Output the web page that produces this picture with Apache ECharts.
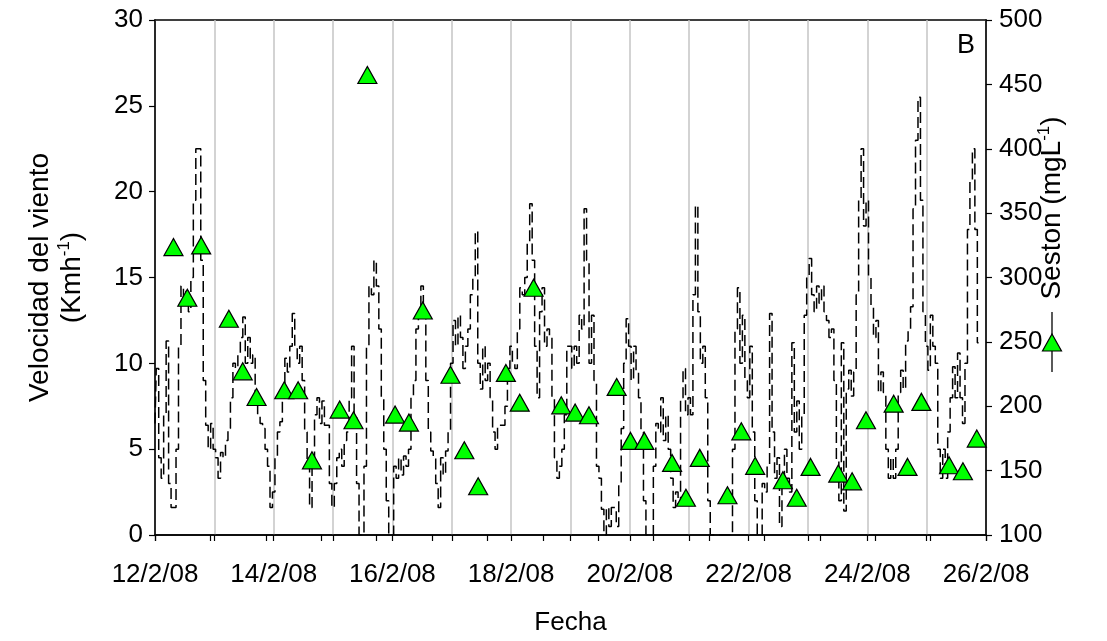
<!DOCTYPE html>
<html>
<head>
<meta charset="utf-8">
<script src="https://cdn.jsdelivr.net/npm/echarts@6/dist/echarts.min.js"></script>
<style>
  html, body { margin: 0; padding: 0; background: #ffffff; }
  #chart { width: 1107px; height: 641px; }
</style>
</head>
<body>
<div id="chart"></div>
<script>
// ---- Data ----
// X axis: days from 12/2/08 00:00
const dateLabels = ['12/2/08', '13/2/08', '14/2/08', '15/2/08', '16/2/08', '17/2/08', '18/2/08', '19/2/08',
                    '20/2/08', '21/2/08', '22/2/08', '23/2/08', '24/2/08', '25/2/08', '26/2/08'];
const windTicksLeft = [0, 5, 10, 15, 20, 25, 30];
const sestonTicksRight = [100, 150, 200, 250, 300, 350, 400, 450, 500];

// Wind speed (Km/h), hourly readings, one row per day starting 12/2/08 00:00
const windDay0  = [6.5, 9.7, 4.5, 3.3, 7, 11.3, 3, 1.6, 1.6, 5, 11, 14.5, 13.8, 14.2, 13, 15, 19.5, 22.5, 22.5, 16, 9, 6.4, 5, 6.5];
const windDay1  = [5, 4.5, 3.3, 4.8, 4.5, 5.5, 6.2, 8, 10, 9.7, 10.5, 11.5, 12.7, 10, 11.5, 10, 10.5, 8, 7, 6.5, 6.2, 5, 4, 1.6];
const windDay2  = [2.5, 4.5, 6, 6.6, 8, 10.3, 9.5, 11, 12.9, 11, 10, 11, 9, 6, 4, 1.6, 4.5, 7, 8, 6.5, 7.8, 6.4, 6.4, 3];
const windDay3  = [1.6, 3, 4.5, 5, 4, 5.5, 6, 8, 11, 7, 3, 0, 0, 4, 11, 14.5, 14, 16, 14.5, 12, 8, 5, 2, 0];
const windDay4  = [0, 4, 3.3, 4.5, 3.5, 4.6, 4, 5, 8, 9, 12, 12.8, 14.5, 13, 9, 6, 4.9, 4.5, 3, 1.6, 4.5, 3.5, 4.9, 6];
const windDay5  = [10, 12.5, 11, 12.8, 11.5, 9.7, 11, 12, 14, 15, 17.7, 10, 8.5, 11, 9, 10, 8, 6, 5, 6.4, 6.4, 6.4, 7.5, 9.7];
const windDay6  = [11, 10, 9.7, 12, 14.4, 14, 15, 17, 19.3, 16, 11, 8, 13, 14.4, 11, 12, 11.5, 8, 4.5, 3.3, 4, 5, 7, 11];
const windDay7  = [11, 9.7, 11, 10, 12.8, 12, 19, 16, 10, 12.8, 9, 4, 3.3, 1.5, 0, 1.6, 0.5, 1.6, 1.6, 0.5, 3, 6.2, 10, 12.6];
const windDay8  = [11, 9, 11, 9.5, 8, 6, 2, 0, 0, 0, 4, 6.5, 6, 8, 5.5, 7, 5, 3.3, 1.6, 2.5, 1.8, 8, 9.7, 7];
const windDay9  = [8, 7, 14, 19.2, 13, 10, 11, 8, 2, 0, 0, 0, 0, 0, 0, 0, 0, 0, 5, 12, 14.4, 10, 12.8, 9];
const windDay10 = [8, 11, 6, 2, 0, 0, 3, 2.5, 4, 12.9, 6, 3.3, 4.5, 0.5, 3, 5, 3.3, 2.5, 11.2, 6, 7.8, 5, 7, 12.8];
const windDay11 = [15, 16.1, 14, 13, 14.5, 13.5, 14.5, 13, 12.5, 11.5, 12, 9, 4.3, 2, 11.2, 1.4, 8.5, 9.6, 8.1, 9.5, 14, 19.5, 22.5, 18];
const windDay12 = [19.5, 15, 13.3, 11.5, 12.5, 8.3, 9.5, 8.3, 5, 3.3, 4.5, 3.3, 5, 8.3, 9.6, 8.5, 11.3, 12, 13.3, 19, 23, 25.5, 19.5, 13];
const windDay13 = [11, 9.6, 12.8, 11, 10, 5, 3.3, 5, 3.3, 6, 8, 9.8, 8, 10.6, 8, 6.5, 10, 17.8, 20.7, 22.5, 17.8, 11.2];
const windDays = [windDay0, windDay1, windDay2, windDay3, windDay4, windDay5, windDay6,
                  windDay7, windDay8, windDay9, windDay10, windDay11, windDay12, windDay13];

// Seston (mg/L), sampled at 8h, 14h and 20h each day, 12/2/08 .. 26/2/08
const sestonHours = [8, 14, 20];
const sestonByDay = [
  [323.6, 284.3, 324.9],
  [268.0, 227.1, 207.2],
  [212.4, 212.4, 158.0],
  [197.4, 189.1, 457.3],
  [193.5, 187.3, 274.4],
  [224.5, 165.8, 137.9],
  [225.9, 202.8, 292.0],
  [200.7, 195.1, 193.0],
  [215.0, 173.1, 173.1],
  [156.0, 128.9, 159.9],
  [130.9, 180.5, 153.7],
  [142.5, 128.9, 152.9],
  [147.7, 141.7, 189.1],
  [202.0, 152.9, 203.4],
  [154.2, 149.5, 174.9]
];

// ---- Build series data ----
const windData = [];
windDays.forEach((row, d) => {
  row.forEach((v, h) => windData.push([d + h / 24, v]));
});
const sestonData = [];
sestonByDay.forEach((row, d) => {
  row.forEach((v, k) => sestonData.push([d + sestonHours[k] / 24, v]));
});

const FONT = 'Liberation Sans, Arial, sans-serif';
const chart = echarts.init(document.getElementById('chart'), null, { renderer: 'canvas' });

chart.setOption({
  animation: false,
  backgroundColor: '#ffffff',
  grid: { left: 155, right: 121, top: 20, bottom: 105, show: true, borderColor: '#000', borderWidth: 1.5, backgroundColor: 'transparent' },
  xAxis: [
    {
      type: 'value', min: 0, max: 14, interval: 1, position: 'bottom',
      axisLine: { show: true, onZero: false, lineStyle: { color: '#000', width: 1.5 } },
      axisTick: { show: true, length: 6, lineStyle: { color: '#000', width: 1.2 } },
      axisLabel: {
        show: true, margin: 27, color: '#000', fontFamily: FONT, fontSize: 26,
        formatter: v => (Math.round(v) % 2 === 0 ? dateLabels[Math.round(v)] : '')
      },
      splitLine: { show: true, lineStyle: { color: '#c4c4c4', width: 1.5 } },
      name: 'Fecha', nameLocation: 'middle', nameGap: 75,
      nameTextStyle: { color: '#000', fontFamily: FONT, fontSize: 26 }
    },
    {
      type: 'value', min: 0, max: 15, interval: 1, position: 'bottom',
      axisLine: { show: false, onZero: false },
      axisTick: { show: true, length: 6, lineStyle: { color: '#000', width: 1.2 } },
      axisLabel: { show: false },
      splitLine: { show: false }
    }
  ],
  yAxis: [
    {
      type: 'value', min: 0, max: 30, interval: 5, position: 'left',
      axisLine: { show: true, onZero: false, lineStyle: { color: '#000', width: 1.5 } },
      axisTick: { show: true, length: 6, lineStyle: { color: '#000', width: 1.2 } },
      axisLabel: { color: '#000', fontFamily: FONT, fontSize: 26, margin: 12 },
      splitLine: { show: false },
      name: 'Velocidad del viento\n(Kmh{sup|-1})', nameLocation: 'middle', nameGap: 67,
      nameTextStyle: {
        color: '#000', fontFamily: FONT, fontSize: 28, lineHeight: 32,
        rich: { sup: { fontSize: 17, lineHeight: 22, verticalAlign: 'top', color: '#000', fontFamily: FONT } }
      }
    },
    {
      type: 'value', min: 100, max: 500, interval: 50, position: 'right',
      axisLine: { show: true, onZero: false, lineStyle: { color: '#000', width: 1.5 } },
      axisTick: { show: true, length: 6, lineStyle: { color: '#000', width: 1.2 } },
      axisLabel: { color: '#000', fontFamily: FONT, fontSize: 26, margin: 13 },
      splitLine: { show: false }
    }
  ],
  series: [
    {
      name: 'Viento', type: 'line', xAxisIndex: 0, yAxisIndex: 0,
      data: windData, step: 'middle', showSymbol: false, symbol: 'none',
      clip: true,
      lineStyle: { color: '#000', width: 1.5, type: [11, 5] },
      z: 3
    },
    {
      name: 'Seston', type: 'scatter', xAxisIndex: 1, yAxisIndex: 1,
      data: sestonData, symbol: 'triangle', symbolSize: [19, 17],
      itemStyle: { color: '#00ff00', borderColor: '#000', borderWidth: 1.2, opacity: 1 },
      z: 5
    }
  ],
  graphic: [
    { type: 'text', left: 957, top: 32, style: { text: 'B', fill: '#000', font: '27px ' + FONT } },
    { type: 'line', shape: { x1: 1052, y1: 312, x2: 1052, y2: 372 }, style: { stroke: '#000', lineWidth: 1.3 } },
    { type: 'polygon', shape: { points: [[1052, 334], [1061.5, 351], [1042.5, 351]] }, style: { fill: '#00ff00', stroke: '#000', lineWidth: 1.2 } },
    {
      type: 'text', x: 1052, y: 208, rotation: Math.PI / 2,
      style: {
        text: 'Seston (mgL{sup|-1})', fill: '#000', font: '28px ' + FONT,
        align: 'center', verticalAlign: 'middle', lineHeight: 32,
        rich: { sup: { fontSize: 17, lineHeight: 22, verticalAlign: 'top', fill: '#000', fontFamily: FONT } }
      }
    }
  ]
});
</script>
</body>
</html>
